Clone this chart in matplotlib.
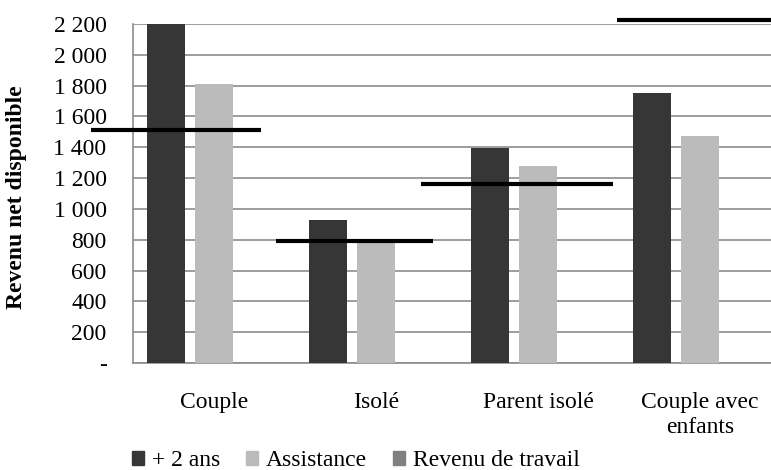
import matplotlib
matplotlib.use("Agg")
import matplotlib.pyplot as plt
import numpy as np
from matplotlib.patches import Patch

plt.rcParams['font.family'] = ['Liberation Serif', 'DejaVu Serif']

categories = ["Couple", "Isolé", "Parent isolé", "Couple avec\nenfants"]
plus2ans = [2200, 928, 1395, 1752]
assistance = [1810, 785, 1278, 1473]
revenu_travail = [1512, 792, 1162, 2226]
line_start = [-0.76, -0.62, -0.72, -0.51]
line_end = [0.29, 0.35, 0.46, 0.75]
yticks = [0, 200, 400, 600, 800, 1000, 1200, 1400, 1600, 1800, 2000, 2200]
yticklabels = ["-", "200", "400", "600", "800", "1 000", "1 200", "1 400",
               "1 600", "1 800", "2 000", "2 200"]

FS = 17

fig = plt.figure(figsize=(7.71, 4.70), dpi=100)
ax = fig.add_axes([133/771, 107/470, 648/771, 339/470])

x = np.arange(len(categories))
w = 0.24
ax.bar(x - 0.296, plus2ans, width=w, color="#363636", zorder=3)
ax.bar(x, assistance, width=w, color="#bbbbbb", zorder=3)
for i, v in enumerate(revenu_travail):
    ax.plot([x[i] + line_start[i], x[i] + line_end[i]], [v, v], color="black",
            lw=3.0, solid_capstyle="butt", clip_on=False, zorder=4)

ax.set_xlim(-0.5, 3.5)
ax.set_ylim(0, 2200)
ax.set_yticks(yticks)
ax.set_yticklabels(yticklabels, fontsize=FS)
ax.set_xticks(x)
ax.set_xticklabels(categories, fontsize=FS, linespacing=1.25)
ax.tick_params(axis='y', length=0, pad=19)
ax.tick_params(axis='x', length=0, pad=21)
ax.grid(axis='y', color="#8c8c8c", lw=1.2, zorder=0)
for s in ["top", "right"]:
    ax.spines[s].set_visible(False)
for s in ["left", "bottom"]:
    ax.spines[s].set_color("#8c8c8c")
    ax.spines[s].set_linewidth(1.2)
ax.set_ylabel("Revenu net disponible", fontsize=FS, fontweight="bold")
ax.yaxis.set_label_coords(-0.163, 0.49)

handles = [Patch(color="#363636"), Patch(color="#bbbbbb"), Patch(color="#808080")]
fig.legend(handles, ["+ 2 ans", "Assistance", "Revenu de travail"], ncol=3,
           loc="center", bbox_to_anchor=(356/771, 1 - 461/470), frameon=False,
           fontsize=FS, handlelength=0.5, handleheight=0.5, handletextpad=0.35,
           columnspacing=1.1, borderaxespad=0, borderpad=0)

fig.savefig("out.png", dpi=100)
